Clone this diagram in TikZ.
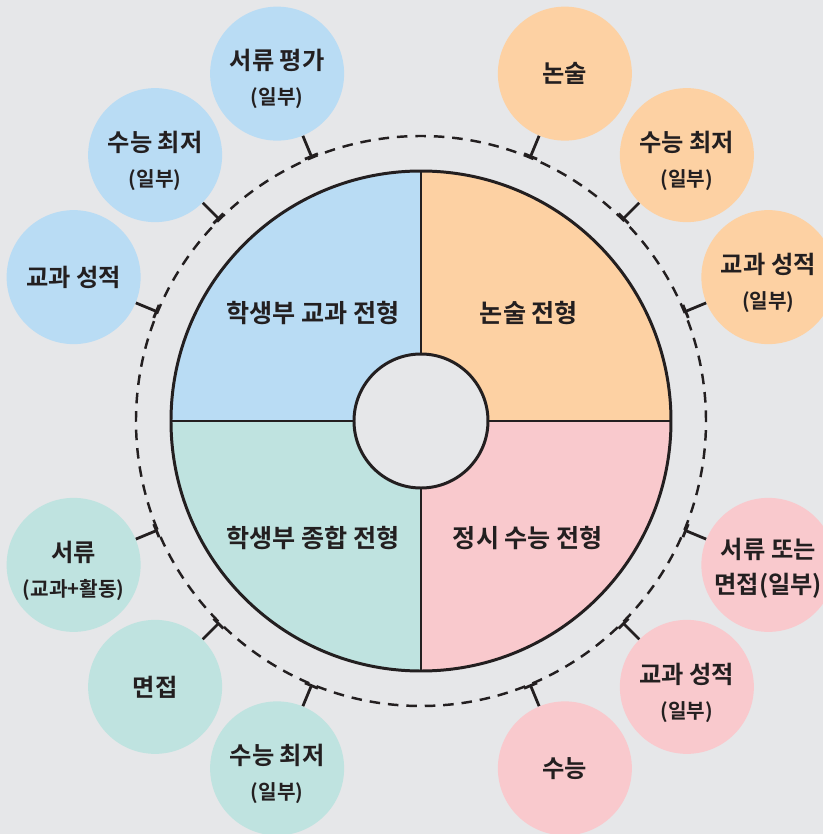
\documentclass[tikz,border=0pt]{standalone}
\usepackage{fontspec}
\setmainfont{Noto Sans CJK KR}[BoldFont={Noto Sans CJK KR Bold}]
\usetikzlibrary{arrows.meta}
\definecolor{bggray}{HTML}{E6E7E9}
\definecolor{ink}{HTML}{231F20}
\definecolor{qblue}{HTML}{B9DCF4}
\definecolor{qorange}{HTML}{FDD1A3}
\definecolor{qpink}{HTML}{F9C9CD}
\definecolor{qgreen}{HTML}{BFE3E0}
\newcommand\subline[1]{{\fontsize{11.5}{20}\selectfont #1}}
\newcommand\twolines[2]{\rule{0pt}{18pt}#1\\\subline{#2}}
\tikzset{
  bubble/.style={circle, minimum size=2.68cm, inner sep=0pt, align=center, text=ink,
    font=\bfseries\fontsize{13.8}{20}\selectfont},
  sector/.style={text=ink, font=\bfseries\fontsize{14.3}{17}\selectfont},
  rim/.style={ink, line width=1.7pt},
  tick/.style={ink, line width=1.6pt, -{Bar[width=8pt,line width=1.6pt]}}
}

\begin{document}
\begin{tikzpicture}
  % background
  \fill[bggray] (-8.42,-8.26) rectangle (8.04,8.42);
  \clip (-8.42,-8.26) rectangle (8.04,8.42);

  % quarters
  \fill[qorange] (0,0) -- (5,0) arc (0:90:5) -- cycle;
  \fill[qblue] (0,0) -- (0,5) arc (90:180:5) -- cycle;
  \fill[qgreen] (0,0) -- (-5,0) arc (180:270:5) -- cycle;
  \fill[qpink] (0,0) -- (0,-5) arc (270:360:5) -- cycle;
  \draw[rim] (0,0) circle (5);
  \draw[rim] (-5,0) -- (5,0) (0,-5) -- (0,5);
  \draw[rim, fill=bggray] (0,0) circle (1.34);

  \node[sector] (sblue) at (-2.16,2.16) {학생부 교과 전형};
  \node[sector] (sorange) at (2.16,2.16) {논술 전형};
  \node[sector] (sgreen) at (-2.16,-2.34) {학생부 종합 전형};
  \node[sector] (spink) at (2.14,-2.34) {정시 수능 전형};

  % dashed ring
  \draw[ink, line width=1.4pt, dash pattern=on 6pt off 4.5pt] (0,0) circle (5.7);

  % outer bubbles
  \node[bubble, fill=qorange] (b1) at (67.5:7.52) {논술};
  \node[bubble, fill=qorange] (b2) at (45:7.52) {\twolines{수능 최저}{(일부)}};
  \node[bubble, fill=qorange] (b3) at (22.5:7.52) {\twolines{교과 성적}{(일부)}};
  \node[bubble, fill=qpink] (b4) at (-22.5:7.52) {\rule{0pt}{15pt}서류 또는\\면접(일부)};
  \node[bubble, fill=qpink] (b5) at (-45:7.52) {\twolines{교과 성적}{(일부)}};
  \node[bubble, fill=qpink] (b6) at (-67.5:7.52) {수능};
  \node[bubble, fill=qgreen] (b7) at (-112.5:7.52) {\twolines{수능 최저}{(일부)}};
  \node[bubble, fill=qgreen] (b8) at (-135:7.52) {면접};
  \node[bubble, fill=qgreen] (b9) at (-157.5:7.52) {\twolines{서류}{(교과+활동)}};
  \node[bubble, fill=qblue] (b10) at (157.5:7.52) {교과 성적};
  \node[bubble, fill=qblue] (b11) at (135:7.52) {\twolines{수능 최저}{(일부)}};
  \node[bubble, fill=qblue] (b12) at (112.5:7.52) {\twolines{서류 평가}{(일부)}};

  % ticks on the ring
  \foreach \a [count=\i] in {67.5,45,22.5,-22.5,-45,-67.5,-112.5,-135,-157.5,157.5,135,112.5} {
    \coordinate (t\i) at (\a:5.7);
    \draw[tick] (b\i) -- (t\i);
  }
\end{tikzpicture}
\end{document}
